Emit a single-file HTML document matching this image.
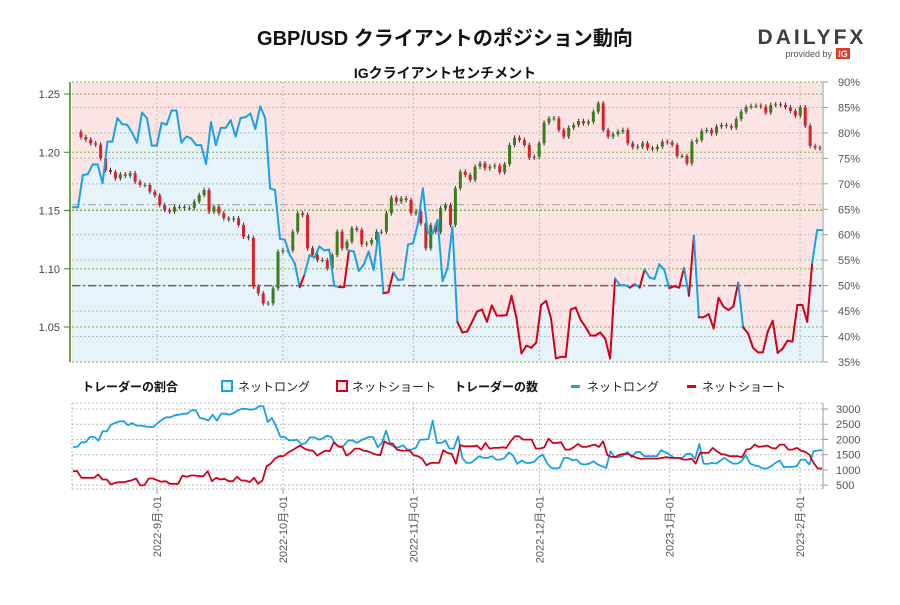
<!DOCTYPE html>
<html><head><meta charset="utf-8">
<style>
body{margin:0;background:#fff;}
svg text{font-family:"Liberation Sans","Noto Sans CJK JP",sans-serif;}
</style></head>
<body>
<svg id="chart" width="900" height="600" viewBox="0 0 900 600" xmlns="http://www.w3.org/2000/svg">
<text x="445" y="45" text-anchor="middle" font-size="20" font-weight="bold" fill="#111">GBP/USD クライアントのポジション動向</text>
<text x="445" y="78" text-anchor="middle" font-size="14" font-weight="bold" fill="#111">IGクライアントセンチメント</text>
<g>
<text x="812" y="44" text-anchor="middle" font-size="21" font-weight="bold" fill="#3b3f4a" letter-spacing="3">DAILYFX</text>
<text x="832" y="57" text-anchor="end" font-size="9" fill="#555">provided by</text>
<rect x="836" y="48" width="14" height="11" fill="#e03a2e"></rect>
<text x="843" y="57" text-anchor="middle" font-size="9" font-weight="bold" fill="#fff">IG</text>
</g>
<g id="main"></g>
<g id="legend">
<text x="82" y="391" font-size="12" font-weight="bold" fill="#111">トレーダーの割合</text>
<rect x="222" y="381" width="10" height="10" fill="#e6f3fb" stroke="#1ba1e2" stroke-width="2"></rect>
<text x="238" y="391" font-size="12" fill="#222">ネットロング</text>
<rect x="337" y="381" width="10" height="10" fill="#fce4e4" stroke="#d0021b" stroke-width="2"></rect>
<text x="352" y="391" font-size="12" fill="#222">ネットショート</text>
<text x="454" y="391" font-size="12" font-weight="bold" fill="#111">トレーダーの数</text>
<rect x="571" y="385" width="9" height="3" fill="#1ba1e2"></rect>
<text x="587" y="391" font-size="12" fill="#222">ネットロング</text>
<rect x="687" y="385" width="9" height="3" fill="#d0021b"></rect>
<text x="702" y="391" font-size="12" fill="#222">ネットショート</text>
</g>
<g id="sub"></g>
</svg>
<script>
const priceTicks=[1.25,1.20,1.15,1.10,1.05];
const priceTickLabels=["1.25","1.20","1.15","1.10","1.05"];
const pctTicks=[90,85,80,75,70,65,60,55,50,45,40,35];
const countTicks=[3000,2500,2000,1500,1000,500];
const monthLabels=["2022-9月-01","2022-10月-01","2022-11月-01","2022-12月-01","2023-1月-01","2023-2月-01"];
const monthDay=[31,61,92,122,153,184];
const closes=[1.2176,1.2130,1.2110,1.2077,1.2065,1.1948,1.1848,1.1830,1.1776,1.1810,1.1798,1.1820,1.1747,1.1719,1.1719,1.1662,1.1630,1.1547,1.1504,1.1490,1.1530,1.1530,1.1522,1.1522,1.1576,1.1633,1.1676,1.1490,1.1533,1.1476,1.1433,1.1422,1.1433,1.1376,1.1275,1.1264,1.0846,1.0789,1.0703,1.0703,1.0832,1.1146,1.1158,1.1158,1.1318,1.1476,1.1462,1.1175,1.1118,1.1075,1.1073,1.1004,1.1118,1.1318,1.1175,1.1233,1.1347,1.1333,1.1210,1.1218,1.1247,1.1318,1.1318,1.1476,1.1610,1.1576,1.1604,1.1590,1.1476,1.1490,1.1390,1.1175,1.1376,1.1318,
1.1519,1.1547,1.1376,1.1691,1.1833,1.1805,1.1762,1.1876,1.1905,1.1862,1.1876,1.1885,1.1828,1.1897,1.2062,1.2125,1.2105,1.2062,1.1953,1.1962,1.2077,1.2254,1.2291,1.2291,1.2191,1.2134,1.2211,1.2234,1.2268,1.2248,1.2262,1.2348,1.2420,1.2191,1.2134,1.2154,1.2177,1.2191,1.2077,1.2043,1.2048,1.2077,1.2034,1.2028,1.2048,1.2091,1.2085,1.2062,1.1968,1.1968,1.1905,1.2091,1.2105,1.2182,1.2191,1.2162,1.2220,1.2234,1.2225,1.2211,1.2285,1.2348,1.2388,1.2397,1.2400,1.2391,1.2340,1.2406,1.2411,1.2406,1.2386,1.2354,1.2314,1.2386,1.2228,1.2054,1.2040,1.2034];
const longPct=[65.4,65.4,71.7,71.9,73.8,73.8,70.1,78.3,78.3,82.9,81.7,81.6,80.0,78.1,84.0,82.9,77.5,77.5,82.0,81.6,84.4,84.4,78.1,79.3,78.9,77.6,77.6,73.9,82.1,77.6,81.0,81.0,82.5,79.3,82.9,83.1,83.8,80.8,85.2,82.9,69.1,68.8,59.2,59.0,56.0,54.4,49.7,52.2,56.0,55.5,57.7,56.9,57.1,50.0,49.7,49.7,56.9,56.7,52.9,54.1,56.7,53.1,60.3,48.5,48.7,52.6,51.1,51.2,58.1,58.3,62.2,69.1,60.3,60.3,62.9,50.9,53.4,61.6,
42.9,40.8,41.0,42.9,44.9,45.3,42.9,46.1,44.1,44.1,44.2,48.0,43.6,36.7,38.2,37.8,38.8,46.2,47.0,43.6,35.7,36.0,36.0,45.3,45.7,43.3,41.9,40.2,40.2,40.8,39.6,35.7,51.4,50.1,50.1,49.6,50.3,49.6,53.2,51.6,51.3,54.2,53.1,49.5,49.9,49.6,53.5,48.0,59.8,43.8,43.8,44.4,41.6,47.6,45.9,45.2,45.9,50.6,41.8,40.6,37.8,36.9,36.9,41.0,43.1,36.8,37.6,39.2,39.0,46.2,46.2,42.9,54.4,60.9,60.9];
const longCount=[1755,1755,1908,1908,2083,2083,1963,2268,2268,2487,2541,2596,2596,2465,2541,2454,2454,2432,2410,2410,2541,2650,2727,2727,2792,2814,2847,2847,2956,2956,2705,2683,2618,2814,2618,2847,2847,2814,2869,2956,3011,3000,2978,3000,3087,3087,2574,2705,2432,2083,2083,1974,1974,1996,1832,1886,2072,2072,1996,2028,2126,2083,1853,1744,1799,1963,1974,1886,1963,2028,2083,2072,1744,1886,2290,1832,1744,1744,1810,1668,1668,1722,1996,1996,2017,2618,1886,1886,1963,1701,
1701,2105,1395,1231,1231,1340,1450,1395,1395,1450,1340,1340,1395,1580,1471,1198,1308,1231,1231,1264,1417,1504,1231,1067,1046,1067,1395,1395,1319,1340,1198,1177,1209,1286,1177,1122,1067,1613,1428,1417,1471,1591,1417,1580,1591,1450,1450,1450,1450,1646,1580,1504,1395,1395,1395,1526,1526,1362,1853,1209,1198,1231,1209,1308,1395,1286,1209,1209,1286,1482,1209,1155,1122,1046,1046,1122,1231,1308,1089,1100,1100,1122,1340,1340,1177,1613,1635,1646];
const shortCount=[958,958,740,740,740,740,849,685,685,522,576,598,598,631,664,718,489,500,718,718,664,609,631,543,543,543,816,773,816,816,794,794,958,631,740,685,707,631,631,773,653,653,598,740,543,653,1122,1209,1373,1450,1450,1559,1635,1722,1799,1701,1646,1635,1471,1559,1635,1613,1908,1777,1755,1471,1559,1701,1701,1635,1613,1559,1504,1482,1941,1853,1864,1668,1635,1635,1635,1482,1450,1362,1155,1231,1231,1231,1646,1559,
1526,1209,1810,1777,1777,1777,1799,1668,1886,1701,1722,1722,1744,1722,1941,2105,2105,1996,1996,1996,1701,1701,1744,2028,1886,1886,1908,1668,1668,1744,1853,1755,1755,1799,1832,1755,1941,1482,1428,1428,1504,1526,1526,1450,1395,1362,1373,1373,1373,1373,1395,1417,1395,1395,1395,1340,1340,1373,1209,1559,1559,1559,1722,1613,1526,1504,1450,1450,1450,1417,1668,1690,1832,1755,1777,1799,1722,1701,1832,1832,1668,1668,1722,1635,1591,1504,1231,1046,1046];

const NS="http://www.w3.org/2000/svg";
function mk(parent,tag,attrs){const e=document.createElementNS(NS,tag);for(const k in attrs)e.setAttribute(k,attrs[k]);parent.appendChild(e);return e;}
const X0=72,X1=822,YT=82,YB=362;
const yPct=p=>YT+(90-p)/55*(YB-YT);
const yPrice=p=>94+(1.25-p)/0.05*58.25;
const xDay=d=>157+(d-31)*(800-157)/(184-31);
const xIdx=(i,n,a,b)=>a+i*(b-a)/(n-1);
const SY0=409,SYper=15.23;
const yCount=c=>SY0+(3000-c)/500*SYper;

const main=document.getElementById('main');
// background pink
let bg=mk(main,'rect',{x:X0,y:YT,width:X1-X0,height:YB-YT,fill:'#fce4e4'});


// blue area under line
const nL=longPct.length;
let pts=[];
for(let i=0;i<nL;i++)pts.push(xIdx(i,nL,73,822).toFixed(1)+','+yPct(longPct[i]).toFixed(1));
let area=mk(main,'polygon',{points:'73,'+YB+' '+pts.join(' ')+' 822,'+YB,fill:'#e6f3fb'});


// gridlines pct (gray dotted)
pctTicks.forEach((p,i)=>{
 if(p<90&&p>35){let l=mk(main,'line',{x1:X0,x2:X1,y1:yPct(p),y2:yPct(p),stroke:'#bbb','stroke-dasharray':'2,2','stroke-width':1});
 
 }
 let t=mk(main,'line',{x1:823,x2:828,y1:yPct(p),y2:yPct(p),stroke:'#999'});
 
 
 let tx=mk(main,'text',{x:838,y:yPct(p)+4,'font-size':11,fill:'#555'});tx.textContent=p+'%';
 
 
});
// price gridlines green dotted
priceTicks.forEach((p,i)=>{
 let l=mk(main,'line',{x1:X0,x2:X1,y1:yPrice(p),y2:yPrice(p),stroke:'#7cb342','stroke-dasharray':'2,2','stroke-width':1});
 
 
 let t=mk(main,'line',{x1:64,x2:70,y1:yPrice(p),y2:yPrice(p),stroke:'#3a8a1a'});
 
 
 let tx=mk(main,'text',{x:60,y:yPrice(p)+4,'font-size':11,fill:'#444','text-anchor':'end'});tx.textContent=priceTickLabels[i];
 
 
});
// month gridlines
monthDay.forEach(d=>{
 let l=mk(main,'line',{x1:xDay(d),x2:xDay(d),y1:YT,y2:YB,stroke:'#bbb','stroke-dasharray':'2,2'});
 
 
});
// top/bottom border green dotted
[YT,YB].forEach(y=>{let l=mk(main,'line',{x1:X0,x2:X1,y1:y,y2:y,stroke:'#7cb342','stroke-dasharray':'2,2'});
 
 });
// reference lines
let r1=mk(main,'line',{x1:X0,x2:X1,y1:yPct(65.9),y2:yPct(65.9),stroke:'#aaa','stroke-dasharray':'8,3,2,3','stroke-width':1.2});


let r2=mk(main,'line',{x1:X0,x2:X1,y1:yPct(50),y2:yPct(50),stroke:'#666','stroke-dasharray':'8,3,2,3','stroke-width':1.5});


// axes
let la=mk(main,'line',{x1:70,x2:70,y1:YT,y2:YB,stroke:'#3a8a1a','stroke-width':1.5});


let ra=mk(main,'line',{x1:823,x2:823,y1:YT,y2:YB,stroke:'#999'});


// candles
const nC=closes.length;
for(let i=1;i<nC;i++){
 const o=closes[i-1],c=closes[i];const x=xIdx(i,nC,76,820);
 const hi=Math.max(o,c)+0.002,lo=Math.min(o,c)-0.002;
 const g=mk(main,'g',{});
 
 
 mk(g,'line',{x1:x,x2:x,y1:yPrice(hi),y2:yPrice(lo),stroke:'#333','stroke-width':1});
 const col=c>=o?'#3a7d1e':'#d7212b';
 const yt=yPrice(Math.max(o,c)),yb=yPrice(Math.min(o,c));
 mk(g,'rect',{x:x-1.5,y:yt,width:3,height:Math.max(1,yb-yt),fill:col});
}
// sentiment line segments
for(let i=0;i<nL-1;i++){
 const s=mk(main,'line',{x1:xIdx(i,nL,73,822),y1:yPct(longPct[i]),x2:xIdx(i+1,nL,73,822),y2:yPct(longPct[i+1]),stroke:longPct[i]<50?'#d0021b':'#1ba1e2','stroke-width':2,'stroke-linecap':'round'});
 
 
}

// sub chart
const sub=document.getElementById('sub');
const SX0=72,SX1=822,SYT=403,SYB=489;
countTicks.forEach(c=>{
 let l=mk(sub,'line',{x1:SX0,x2:SX1,y1:yCount(c),y2:yCount(c),stroke:'#bbb','stroke-dasharray':'2,2'});
 
 
 let t=mk(sub,'line',{x1:823,x2:828,y1:yCount(c),y2:yCount(c),stroke:'#999'});
 
 
 let tx=mk(sub,'text',{x:836,y:yCount(c)+4,'font-size':11,fill:'#555'});tx.textContent=c;
 
 
});
[SYT,SYB].forEach(y=>{let l=mk(sub,'line',{x1:SX0,x2:SX1,y1:y,y2:y,stroke:'#bbb','stroke-dasharray':'2,2'});
 
 });
let sl=mk(sub,'line',{x1:SX0,x2:SX0,y1:SYT,y2:SYB,stroke:'#bbb','stroke-dasharray':'2,2'});


let sa=mk(sub,'line',{x1:823,x2:823,y1:SYT,y2:SYB,stroke:'#999'});


monthDay.forEach((d,i)=>{
 const x=xDay(d);
 let l=mk(sub,'line',{x1:x,x2:x,y1:SYT,y2:SYB,stroke:'#bbb','stroke-dasharray':'2,2'});
 
 
 let t=mk(sub,'line',{x1:x,x2:x,y1:SYB,y2:SYB+5,stroke:'#999'});
 
 
 let tx=mk(sub,'text',{x:0,y:0,'font-size':11,fill:'#555','text-anchor':'end',transform:'translate('+(x+4)+','+(SYB+7)+') rotate(-90)'});
 tx.textContent=monthLabels[i];
 
 
});
function drawLine(arr,color,name){
 const n=arr.length;const p=arr.map((v,i)=>xIdx(i,n,73,822).toFixed(1)+','+yCount(v).toFixed(1)).join(' ');
 const l=mk(sub,'polyline',{points:p,fill:'none',stroke:color,'stroke-width':1.8,'stroke-linejoin':'round'});
 
 
}
drawLine(longCount,'#1ba1e2','long-count-line');
drawLine(shortCount,'#d0021b','short-count-line');
</script>
</body></html>
